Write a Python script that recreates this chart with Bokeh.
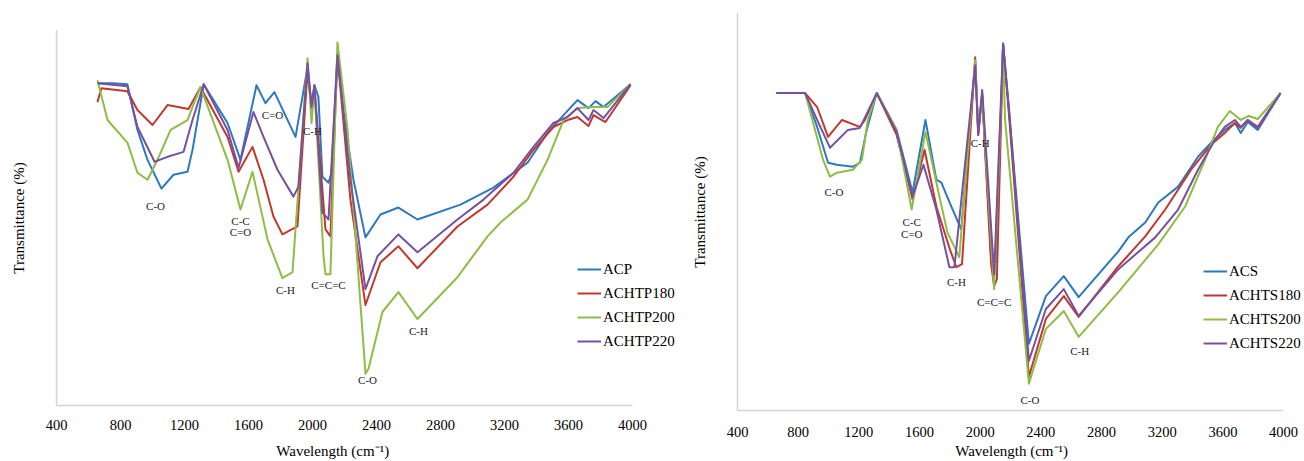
from bokeh.plotting import figure
from bokeh.models import Range1d, FixedTicker, Legend, LegendItem, ColumnDataSource, LabelSet
from bokeh.layouts import row, column
from bokeh.embed import file_html
from bokeh.resources import INLINE

# ---------------- data: left chart (ACP series) ----------------
ACP_wn = [656, 750, 843, 906, 969, 1056, 1131, 1219, 1250, 1320, 1469, 1550, 1650, 1706, 1762, 1894, 1969, 1994, 2012, 2037, 2062, 2100, 2119, 2156, 2194, 2256, 2331, 2425, 2537, 2656, 2925, 3131, 3344, 3469, 3569, 3656, 3725, 3769, 3819, 3988]
ACP_T = [81, 81, 80.75, 69.25, 61.75, 54.5, 58, 58.75, 64.25, 80.75, 71, 61.75, 80.5, 76, 78.75, 67.5, 85, 75.5, 80.5, 77.5, 57.5, 56, 58.5, 88.5, 73.5, 56.75, 42.25, 48, 49.75, 46.75, 50.5, 54.75, 61, 68.5, 73, 76.75, 74.75, 76.5, 75, 80.75]

ACHTP180_wn = [656, 680, 843, 906, 1000, 1094, 1225, 1300, 1469, 1538, 1625, 1694, 1756, 1812, 1906, 1969, 1994, 2012, 2081, 2112, 2156, 2237, 2331, 2425, 2537, 2656, 2906, 3094, 3256, 3381, 3506, 3594, 3656, 3725, 3756, 3831, 3988]
ACHTP180_T = [76.25, 79.75, 79, 74.25, 70.5, 75.5, 74.5, 80, 67.5, 58.75, 65, 56.75, 47.5, 43, 45, 84.25, 74.25, 80, 44.25, 42.5, 88, 51.75, 25.25, 36, 40, 34.5, 45, 50.5, 57.5, 64.25, 70, 71.75, 72.5, 70.25, 73, 71.25, 80.5]

ACHTP200_wn = [656, 719, 844, 906, 969, 1031, 1113, 1219, 1250, 1300, 1469, 1550, 1625, 1719, 1812, 1875, 1969, 1994, 2012, 2069, 2081, 2112, 2156, 2219, 2281, 2331, 2350, 2437, 2537, 2656, 2906, 3094, 3175, 3344, 3469, 3569, 3656, 3756, 3844, 3906, 3988]
ACHTP200_T = [81.75, 71.75, 66, 58.5, 56.75, 61.75, 69.25, 71.75, 75, 80, 61.75, 49.25, 58.75, 41.75, 32, 33.5, 87.25, 71, 80, 37.5, 33, 33, 91.25, 69.25, 36, 8, 9.25, 23.5, 28.5, 21.75, 32.25, 42.5, 46, 51.75, 61.75, 71.75, 74.75, 75, 75, 77.5, 80.75]

ACHTP220_wn = [656, 843, 906, 1013, 1094, 1194, 1250, 1320, 1469, 1538, 1631, 1694, 1781, 1881, 1912, 1969, 1994, 2012, 2062, 2100, 2156, 2237, 2331, 2406, 2537, 2656, 2906, 3069, 3256, 3381, 3506, 3594, 3656, 3725, 3756, 3819, 3988]
ACHTP220_T = [81, 80.25, 70, 61.25, 62.5, 63.75, 71.75, 80.75, 69.25, 59.75, 73.75, 67.5, 59.25, 52.5, 55, 86, 75, 80.5, 48.5, 46.75, 88, 56.75, 29.25, 37.5, 43, 38.5, 46.75, 51.75, 58.5, 65, 71, 72.5, 74.75, 71.75, 74.25, 72.25, 80.75]

# ---------------- data: right chart (ACS series) ----------------
ACS_wn = [656, 846, 925, 997, 1056, 1161, 1207, 1252, 1318, 1449, 1554, 1639, 1711, 1744, 1810, 1875, 1967, 1987, 2013, 2072, 2105, 2151, 2190, 2321, 2433, 2551, 2649, 2911, 2977, 3088, 3174, 3305, 3436, 3521, 3613, 3679, 3718, 3764, 3830, 3980]
ACS_T = [79.75, 79.75, 71.25, 62.25, 61.75, 61.25, 62.25, 70.5, 79.75, 70.5, 54.75, 73, 58, 57.25, 51.25, 45.5, 87.25, 70, 79.75, 38.75, 37.25, 92.25, 75.5, 16.75, 28.75, 33.75, 28.5, 40, 43.5, 47.25, 52.25, 56.25, 63.75, 67.25, 70.5, 72.25, 69.75, 72.5, 70.5, 79.75]

ACHTS180_wn = [656, 846, 925, 997, 1089, 1207, 1240, 1318, 1449, 1554, 1633, 1711, 1800, 1843, 1880, 1967, 1987, 2013, 2072, 2092, 2110, 2151, 2190, 2321, 2433, 2551, 2649, 2911, 3088, 3220, 3390, 3521, 3613, 3679, 3718, 3764, 3830, 3980]
ACHTS180_T = [79.75, 79.75, 76.25, 68.75, 73, 71.25, 73, 79.75, 69.25, 53, 65.5, 51.25, 40.5, 36, 36.75, 88.75, 69.25, 79.25, 36.75, 31.25, 33, 92, 74.25, 8.5, 23, 28.75, 23.5, 36.25, 43.75, 50.5, 60.5, 66.75, 69.75, 72.25, 71, 73, 71.25, 79.75]

ACHTS200_wn = [656, 846, 964, 1010, 1056, 1161, 1220, 1259, 1318, 1449, 1548, 1639, 1731, 1784, 1862, 1967, 1987, 2013, 2092, 2151, 2164, 2321, 2433, 2551, 2649, 2911, 3174, 3351, 3482, 3567, 3646, 3718, 3770, 3830, 3980]
ACHTS200_T = [79.75, 79.75, 63, 58.75, 59.75, 60.5, 63, 73, 79.75, 70.5, 50.5, 70, 53.75, 44.75, 38.5, 88, 70.5, 78.75, 30.5, 90.5, 73, 6.75, 20.5, 25, 18.5, 29.75, 41.75, 51.25, 63, 71.25, 75.25, 73, 74, 73.25, 79.75]

ACHTS220_wn = [656, 846, 925, 1010, 1128, 1207, 1318, 1449, 1554, 1626, 1711, 1797, 1830, 1967, 1987, 2013, 2092, 2151, 2190, 2321, 2433, 2551, 2649, 2911, 3154, 3305, 3436, 3548, 3613, 3679, 3718, 3764, 3830, 3980]
ACHTS220_T = [79.75, 79.75, 73, 66, 70.5, 71, 79.75, 70, 53.75, 61.75, 50.5, 36, 36, 86.75, 69.25, 80.5, 34.25, 92, 75.5, 12.5, 25.5, 30.5, 23.75, 35.5, 43.5, 50.5, 60.5, 68, 71.25, 73, 71.25, 73, 71, 79.75]

x_ticks = [400, 800, 1200, 1600, 2000, 2400, 2800, 3200, 3600, 4000]

# peak annotations (label, wavenumber, transmittance)
left_ann_text = ["C-O", "C-C", "C=O", "C=O", "C-H", "C-H", "C=C=C", "C-H", "C-O"]
left_ann_wn = [1019, 1550, 1550, 1750, 2000, 1831, 2100, 2662, 2344]
left_ann_T = [50.25, 46.25, 43.5, 73, 69, 29, 30.25, 18.75, 6.5]

right_ann_text = ["C-O", "C-C", "C=O", "C-H", "C-H", "C=C=C", "C-O", "C-H"]
right_ann_wn = [1036, 1548, 1548, 2000, 1843, 2092, 2328, 2656]
right_ann_T = [55, 47.25, 44.25, 67.25, 32.25, 27.25, 2.75, 15]

COLORS = ["#2E78C0", "#C0392F", "#8FBC45", "#7850A0"]
FONT = "Liberation Serif"
NB = "\u00a0"


def make_panel(series, ann, width, height, borders, xmax, ymax, tick_standoff, label_standoff,
               legend_loc, pad):
    bl, br, bt, bb = borders
    p = figure(width=width, height=height, output_backend="svg", toolbar_location=None,
               x_range=Range1d(400, xmax), y_range=Range1d(0, ymax),
               min_border_left=bl, min_border_right=br, min_border_top=bt, min_border_bottom=bb)
    p.outline_line_color = None
    p.grid.visible = False
    p.background_fill_color = "white"
    p.border_fill_color = "white"

    xa = p.xaxis[0]
    xa.bounds = (400, 4000)
    xa.ticker = FixedTicker(ticks=x_ticks)
    xa.axis_line_color = "#d4d4d4"
    xa.axis_line_width = 1.5
    xa.major_tick_line_color = None
    xa.minor_tick_line_color = None
    xa.major_label_text_font = FONT
    xa.major_label_text_font_size = "14.5px"
    xa.major_label_text_color = "#000000"
    xa.major_label_standoff = tick_standoff
    xa.axis_label = "Wavelength (cm\u207b\u00b9)" + NB * pad
    xa.axis_label_text_font = FONT
    xa.axis_label_text_font_size = "15px"
    xa.axis_label_text_font_style = "normal"
    xa.axis_label_text_color = "#000000"
    xa.axis_label_standoff = label_standoff

    ya = p.yaxis[0]
    ya.ticker = FixedTicker(ticks=[])
    ya.axis_line_color = "#d4d4d4"
    ya.axis_line_width = 1.5
    ya.major_tick_line_color = None
    ya.minor_tick_line_color = None
    ya.axis_label = "Transmittance (%)"
    ya.axis_label_text_font = FONT
    ya.axis_label_text_font_size = "15px"
    ya.axis_label_text_font_style = "normal"
    ya.axis_label_text_color = "#000000"
    ya.axis_label_standoff = 30

    items = []
    for (name, wn, T), c in zip(series, COLORS):
        r = p.line(wn, T, line_color=c, line_width=2, line_join="round")
        items.append(LegendItem(label=name, renderers=[r]))

    txt, awn, aT = ann
    src = ColumnDataSource(dict(x=awn, y=aT, t=txt))
    p.add_layout(LabelSet(x="x", y="y", text="t", source=src, text_font=FONT,
                          text_font_size="11px", text_color="#222222",
                          text_align="center", text_baseline="middle"))

    leg = Legend(items=items, location=legend_loc, padding=0, margin=0,
                 border_line_color=None, background_fill_alpha=0,
                 glyph_width=24, glyph_height=20, label_height=20, label_standoff=2,
                 spacing=4, label_text_font=FONT, label_text_font_size="15px",
                 label_text_color="#000000")
    p.add_layout(leg, "center")
    return p


left = make_panel([("ACP", ACP_wn, ACP_T), ("ACHTP180", ACHTP180_wn, ACHTP180_T),
                   ("ACHTP200", ACHTP200_wn, ACHTP200_T), ("ACHTP220", ACHTP220_wn, ACHTP220_T)],
                  (left_ann_text, left_ann_wn, left_ann_T),
                  680, 461, (56, 4, 30, 54), 4275, 94.25, 8, 10, (521, 54), 18)

right = make_panel([("ACS", ACS_wn, ACS_T), ("ACHTS180", ACHTS180_wn, ACHTS180_T),
                    ("ACHTS200", ACHTS200_wn, ACHTS200_T), ("ACHTS220", ACHTS220_wn, ACHTS220_T)],
                   (right_ann_text, right_ann_wn, right_ann_T),
                   624, 461, (57, 0, 13, 49), 4138, 99.75, 10, 3, (466, 57), 5)

layout = row(column(left), column(right), spacing=0)
open("out.html", "w").write(file_html(layout, INLINE))
